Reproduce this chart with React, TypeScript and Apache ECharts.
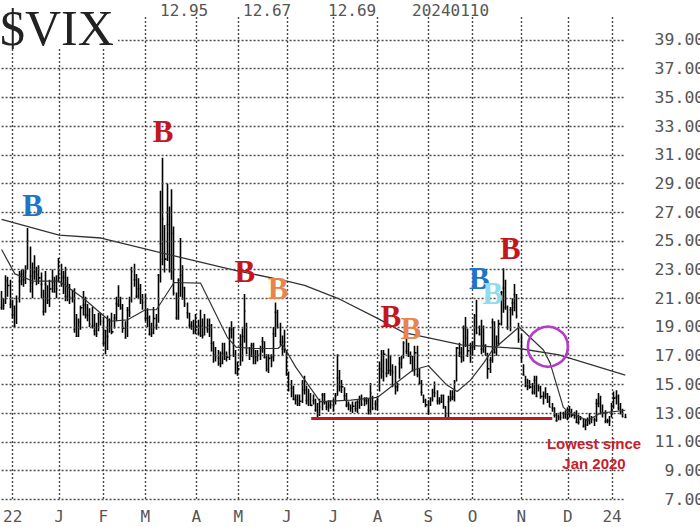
import React, { useEffect, useRef } from 'react';
import * as echarts from 'echarts';

// ---- trading calendar (month key, trading days in month, axis label at month start)
const monthKeys = ['2022-11', '2022-12', '2023-01', '2023-02', '2023-03', '2023-04', '2023-05', '2023-06', '2023-07', '2023-08', '2023-09', '2023-10', '2023-11', '2023-12', '2024-01'];
const monthDays = [5, 21, 20, 19, 23, 19, 22, 21, 20, 23, 20, 22, 21, 20, 7];
const monthLabels = ['', '22', 'J', 'F', 'M', 'A', 'M', 'J', 'J', 'A', 'S', 'O', 'N', 'D', '24'];

// ---- daily VIX closes
const closes = [
  20.35, 20.5, 22.21, 21.89, 20.58,
  19.84, 19.06, 20.75, 22.18, 22.68, 22.29, 22.83, 25.0, 22.55, 22.07, 22.83, 22.62, 22.42, 21.97, 20.07, 21.97, 20.87, 21.65, 22.14, 21.44, 21.67,
  22.9, 22.01, 22.46, 21.13, 21.97, 21.09, 21.03, 18.83, 18.35, 19.36, 20.34, 20.52, 19.85, 19.81, 19.2, 19.08, 18.73, 18.51, 19.94, 19.4,
  17.87, 18.73, 18.33, 19.43, 18.66, 19.63, 20.63, 20.53, 20.34, 18.91, 18.23, 20.17, 20.02, 22.87, 22.29, 21.14, 21.67, 20.95, 20.7,
  19.59, 19.63, 18.49, 18.61, 19.59, 19.11, 22.61, 24.8, 26.52, 23.73, 26.14, 22.99, 25.51, 21.38, 19.64, 22.26, 22.61, 21.74, 20.6, 19.97, 19.12, 19.02, 18.7,
  19.0, 18.58, 19.08, 18.4, 18.97, 18.86, 19.09, 17.87, 17.07, 16.95, 16.83, 16.46, 17.16, 16.77, 16.89, 18.76, 18.84, 17.03, 15.78,
  16.08, 17.78, 18.34, 20.09, 17.19, 17.01, 17.71, 16.94, 16.93, 17.03, 17.12, 17.99, 16.87, 16.05, 16.81, 16.91, 18.53, 20.03, 19.14, 17.95, 17.46, 17.94,
  15.65, 14.6, 14.73, 13.96, 13.94, 13.65, 13.83, 15.01, 14.61, 13.88, 14.5, 13.54, 13.88, 13.2, 12.91, 13.44, 14.25, 13.74, 13.43, 13.54, 13.59,
  13.57, 14.18, 15.44, 14.83, 14.84, 14.21, 13.54, 13.61, 13.34, 13.48, 13.3, 13.76, 13.99, 13.6, 13.91, 13.86, 13.19, 14.41, 13.33, 13.63,
  13.93, 16.09, 15.92, 17.1, 15.77, 15.99, 15.96, 15.85, 14.84, 14.82, 16.46, 16.78, 17.89, 17.3, 17.12, 16.97, 15.98, 17.2, 15.68, 15.08, 14.45, 13.88, 13.57,
  13.09, 14.02, 14.45, 14.4, 13.84, 13.8, 14.23, 13.48, 12.82, 13.79, 14.0, 14.11, 15.14, 17.54, 17.2, 16.9, 18.94, 18.22, 17.34, 17.52,
  17.61, 19.78, 18.58, 18.49, 17.45, 17.7, 17.03, 16.09, 16.69, 19.32, 17.21, 17.88, 19.22, 21.4, 21.71, 20.37, 18.97, 20.19, 20.68, 21.27, 19.75, 18.14,
  16.87, 15.66, 14.91, 14.89, 14.81, 14.45, 15.29, 14.17, 14.76, 14.16, 14.18, 14.32, 13.8, 13.41, 13.35, 12.85, 12.46, 12.69, 12.69, 12.98, 12.92,
  12.63, 13.08, 12.85, 12.97, 12.35, 12.35, 12.63, 12.07, 12.19, 12.48, 12.28, 12.56, 12.53, 13.67, 13.65, 13.03, 12.99, 12.43, 12.47, 12.45,
  13.2, 14.04, 14.13, 13.35, 13.08, 12.76, 12.69,
];

// ---- daily highs
const highs = [
  21.5, 21.0, 22.6, 22.5, 22.3,
  20.9, 20.5, 21.2, 22.9, 23.0, 23.0, 23.3, 25.9, 24.6, 23.5, 24.0, 23.2, 23.3, 22.8, 21.6, 22.9, 21.9, 22.3, 23.0, 22.5, 22.6,
  23.8, 23.4, 22.9, 23.2, 22.5, 22.0, 21.6, 21.7, 19.9, 19.6, 20.5, 21.5, 21.1, 20.6, 20.3, 20.4, 19.9, 19.3, 20.0, 20.0,
  19.7, 18.8, 19.8, 19.6, 20.0, 19.9, 21.1, 21.9, 21.1, 20.6, 19.4, 20.4, 21.1, 23.2, 23.4, 22.7, 22.4, 22.0, 21.3,
  21.3, 20.3, 19.8, 19.3, 20.4, 19.9, 22.7, 28.5, 30.8, 26.1, 29.0, 27.4, 28.6, 26.0, 21.4, 22.4, 25.2, 23.3, 21.8, 20.7, 20.0, 19.4, 19.5,
  19.9, 19.5, 20.2, 19.6, 19.9, 19.6, 19.6, 19.2, 18.0, 17.6, 17.4, 17.3, 17.9, 17.9, 17.3, 19.0, 19.4, 19.0, 17.4,
  16.6, 18.5, 18.9, 21.3, 19.3, 17.6, 17.9, 17.9, 17.4, 17.4, 17.7, 18.3, 18.0, 17.1, 17.1, 17.1, 19.0, 20.7, 20.2, 19.3, 18.4, 18.8,
  17.4, 15.9, 15.3, 14.9, 14.3, 14.3, 14.3, 15.3, 15.6, 14.9, 14.7, 14.4, 14.3, 14.0, 13.7, 14.0, 14.4, 14.4, 13.8, 13.9, 13.9,
  14.0, 14.4, 17.1, 16.0, 15.3, 14.8, 14.4, 13.8, 13.6, 13.8, 13.8, 13.9, 14.2, 14.3, 14.1, 14.1, 14.0, 15.1, 14.2, 13.9,
  14.2, 16.6, 17.4, 17.4, 16.8, 17.5, 17.0, 16.4, 16.3, 15.1, 16.9, 17.0, 18.0, 18.4, 17.9, 17.3, 17.0, 17.7, 17.7, 16.1, 15.3, 14.3, 14.0,
  13.9, 14.1, 14.7, 15.2, 14.6, 14.1, 14.3, 14.3, 13.5, 14.2, 14.6, 14.6, 15.3, 17.6, 17.9, 17.6, 19.1, 19.7, 18.9, 17.9,
  18.0, 19.9, 20.9, 19.1, 19.5, 19.1, 17.8, 17.2, 16.9, 19.6, 19.4, 18.4, 19.5, 21.5, 23.1, 22.3, 20.5, 20.4, 21.0, 22.0, 21.3, 19.3,
  18.5, 16.4, 15.6, 15.4, 15.3, 15.1, 15.6, 15.6, 15.0, 14.9, 14.5, 14.8, 14.4, 14.2, 13.7, 13.4, 13.0, 12.9, 13.1, 13.1, 13.2,
  13.4, 13.5, 13.3, 13.1, 13.2, 12.9, 12.8, 12.6, 12.6, 12.7, 13.0, 12.8, 12.7, 14.0, 14.4, 14.2, 13.6, 13.2, 12.6, 12.8,
  13.7, 14.5, 14.6, 14.3, 13.7, 13.3, 12.95,
];

// ---- daily lows
const lows = [
  20.2, 20.2, 20.6, 21.1, 20.3,
  19.6, 19.0, 19.2, 20.7, 21.9, 21.8, 22.0, 23.0, 21.4, 21.0, 22.3, 21.9, 22.0, 21.0, 19.8, 20.0, 20.6, 20.4, 21.4, 21.4, 21.0,
  22.1, 21.8, 21.3, 20.8, 20.8, 20.6, 20.7, 18.6, 18.3, 18.3, 18.8, 19.8, 19.6, 19.4, 19.0, 18.9, 18.4, 18.3, 18.7, 19.1,
  17.7, 17.1, 17.4, 18.6, 18.5, 18.9, 19.4, 20.4, 20.2, 18.6, 18.2, 18.3, 19.7, 20.7, 21.8, 21.0, 21.0, 20.6, 20.2,
  19.4, 19.0, 18.4, 18.3, 18.5, 18.8, 19.3, 22.1, 23.3, 22.8, 23.6, 22.8, 22.3, 21.2, 19.5, 19.5, 21.1, 20.9, 20.4, 19.6, 18.9, 18.8, 18.5,
  18.5, 18.4, 18.3, 18.2, 18.4, 18.6, 18.3, 17.3, 16.5, 16.6, 16.3, 16.2, 16.4, 16.7, 16.6, 16.7, 18.2, 16.9, 15.7,
  15.6, 16.3, 16.6, 17.9, 17.1, 16.7, 16.9, 16.4, 16.4, 16.6, 16.7, 17.2, 16.8, 15.9, 15.8, 16.2, 16.6, 18.3, 18.9, 17.7, 17.0, 17.2,
  15.6, 14.5, 14.1, 13.9, 13.6, 13.5, 13.5, 13.7, 14.3, 13.6, 13.5, 13.5, 13.6, 13.1, 12.7, 12.8, 13.2, 13.6, 13.2, 13.1, 13.3,
  13.1, 13.6, 14.2, 14.5, 14.4, 13.9, 13.4, 13.2, 13.1, 13.0, 13.1, 13.0, 13.3, 13.5, 13.5, 13.6, 12.9, 12.9, 13.2, 13.2,
  13.2, 14.5, 15.4, 15.2, 15.5, 15.7, 15.6, 14.8, 14.3, 14.5, 15.4, 16.1, 16.8, 17.1, 16.9, 16.4, 15.9, 15.6, 15.5, 15.0, 14.2, 13.7, 13.4,
  12.9, 13.5, 13.8, 14.1, 13.6, 13.6, 13.7, 13.3, 12.7, 12.7, 13.8, 13.9, 13.8, 15.2, 16.9, 16.5, 16.6, 17.6, 16.9, 16.5,
  17.0, 17.4, 18.5, 18.4, 17.1, 17.2, 17.0, 15.4, 15.8, 16.5, 17.2, 17.0, 17.7, 19.1, 20.0, 20.2, 18.8, 18.7, 19.8, 20.1, 19.6, 17.9,
  16.5, 15.6, 14.8, 14.6, 14.7, 14.3, 14.3, 14.1, 14.5, 14.0, 13.6, 14.0, 13.7, 13.4, 13.1, 12.7, 12.4, 12.5, 12.5, 12.6, 12.6,
  12.5, 12.7, 12.7, 12.6, 12.3, 12.2, 12.5, 12.0, 11.8, 12.1, 12.2, 12.3, 12.1, 12.4, 13.4, 12.9, 12.7, 12.3, 12.3, 12.1,
  12.7, 13.3, 13.6, 13.2, 12.9, 12.7, 12.67,
];

// ---- moving averages: [trading-day index, value]
const ma20Idx = [0, 6, 14, 26, 37, 49, 57, 65, 70, 78, 90, 102, 106, 114, 125, 127, 133, 144, 158, 170, 186, 193, 201, 206, 212, 218, 222, 234, 245, 248, 254, 257, 265, 271, 282];
const ma20Val = [24.4, 22.7, 22.2, 22.2, 21.0, 19.4, 19.5, 20.2, 20.2, 22.1, 22.05, 18.3, 17.6, 17.5, 17.5, 17.8, 16.2, 13.8, 13.9, 14.1, 16.0, 16.3, 15.0, 14.5, 15.3, 16.5, 17.4, 19.0, 17.4, 16.5, 13.4, 13.0, 12.5, 13.0, 13.2];
const ma200Idx = [0, 26, 45, 70, 107, 129, 137, 152, 170, 182, 208, 234, 252, 282];
const ma200Val = [26.5, 25.4, 25.2, 24.25, 22.9, 22.2, 21.9, 21.0, 19.6, 18.6, 17.75, 17.5, 17.05, 15.65];

// ---- right-hand price scale
const yTicks = [7, 9, 11, 13, 15, 17, 19, 21, 23, 25, 27, 29, 31, 33, 35, 37, 39];

// ---- "B" signals
const sigIdx = [14, 73, 110, 125, 176, 185, 216, 222, 230];
const sigVal = [27.45, 32.6, 22.85, 21.7, 19.7, 18.9, 22.4, 21.35, 24.5];
const sigColor = ['#1f74c4', '#c4161e', '#c4161e', '#e8844c', '#c4161e', '#e8844c', '#1f74c4', '#90dcec', '#c4161e'];

// ---- support line and circled crossover
const supportFrom = 140;
const supportTo = 249;
const supportLevel = 12.65;
const crossIdx = 247;
const crossVal = 17.63;

const headerTexts = ['12.95', '12.67', '12.69', '20240110'];
const headerX = [160, 243, 328, 412];

export default function App() {
  const ref = useRef<HTMLDivElement>(null);
  useEffect(() => {
    document.body.style.margin = '0';
    if (!ref.current) return;
    const chart = echarts.init(ref.current, undefined, { renderer: 'svg' });

    const categories: string[] = [];
    const labelAt: Record<number, string> = {};
    monthKeys.forEach((m, mi) => {
      for (let d = 0; d < monthDays[mi]; d++) {
        if (d === 0 && monthLabels[mi]) labelAt[categories.length] = monthLabels[mi];
        categories.push(`${m}-${d + 1}`);
      }
    });
    const isLabel = (i: number) => labelAt[i] !== undefined;
    const mono = 'DejaVu Sans Mono';
    const gridStyle = { color: '#4a4a4a', width: 1.4, type: [2, 2] as any };

    const option: any = {
      animation: false,
      backgroundColor: '#fff',
      grid: { left: 0.93, top: 17, width: 624.35, height: 482.2, containLabel: false },
      xAxis: {
        type: 'category',
        data: categories,
        boundaryGap: false,
        axisLine: { show: false },
        axisTick: { show: false },
        axisLabel: {
          interval: (i: number) => isLabel(i),
          formatter: (_v: string, i: number) => labelAt[i] ?? '',
          color: '#555',
          fontFamily: mono,
          fontSize: 16,
          margin: 9,
        },
        splitLine: { show: true, interval: (i: number) => isLabel(i), lineStyle: gridStyle },
      },
      yAxis: { type: 'value', min: 7, max: 40.6, show: false },
      series: [
        {
          type: 'line',
          data: [],
          z: 1,
          silent: true,
          markLine: {
            silent: true,
            symbol: ['none', 'none'],
            lineStyle: gridStyle,
            label: {
              show: true,
              position: 'end',
              distance: 79,
              align: 'right',
              formatter: (p: any) => Number(p.value).toFixed(2),
              color: '#555',
              fontFamily: mono,
              fontSize: 16.5,
            },
            data: yTicks.map((v) => ({ yAxis: v })),
          },
        },
        {
          type: 'candlestick',
          z: 3,
          barWidth: 2.2,
          data: closes.map((c, i) => [c, c, lows[i], highs[i]]),
          itemStyle: { color: '#000', color0: '#000', borderColor: '#000', borderColor0: '#000', borderWidth: 1.6 },
          markLine: {
            silent: true,
            symbol: ['none', 'none'],
            label: { show: false },
            lineStyle: { color: '#c0181c', width: 3, type: 'solid' },
            data: [[{ coord: [supportFrom, supportLevel] }, { coord: [supportTo, supportLevel] }]],
          },
          markPoint: {
            silent: true,
            data: [
              ...sigIdx.map((idx, k) => ({
                coord: [idx, sigVal[k]],
                symbol: 'circle',
                symbolSize: 1,
                itemStyle: { color: 'rgba(0,0,0,0)' },
                label: {
                  show: true,
                  position: 'inside',
                  formatter: 'B',
                  color: sigColor[k],
                  fontFamily: 'Liberation Serif',
                  fontWeight: 'bold',
                  fontSize: 31,
                },
              })),
              {
                coord: [crossIdx, crossVal],
                symbol: 'circle',
                symbolSize: 40,
                itemStyle: { color: 'rgba(0,0,0,0)', borderColor: '#b43cc8', borderWidth: 2.6 },
                label: { show: false },
              },
            ],
          },
        },
        {
          type: 'line',
          z: 4,
          symbol: 'none',
          data: ma20Idx.map((i, k) => [i, ma20Val[k]]),
          lineStyle: { color: '#333', width: 1.2 },
        },
        {
          type: 'line',
          z: 4,
          symbol: 'none',
          data: ma200Idx.map((i, k) => [i, ma200Val[k]]),
          lineStyle: { color: '#333', width: 1.3 },
        },
      ],
      graphic: [
        { type: 'rect', z: 100, shape: { x: 0, y: 0, width: 118, height: 48 }, style: { fill: '#fff' } },
        {
          type: 'text', z: 101, x: 0, y: 28,
          style: { text: '$VIX', fill: '#222', fontFamily: 'Liberation Serif', fontSize: 50, align: 'left', verticalAlign: 'middle', textAlign: 'left', textVerticalAlign: 'middle' },
        },
        ...headerTexts.map((t, k) => ({
          type: 'text', z: 101, x: headerX[k], y: 10,
          style: { text: t, fill: '#555', fontFamily: mono, fontSize: 16, align: 'left', verticalAlign: 'middle', textAlign: 'left', textVerticalAlign: 'middle' },
        })),
        {
          type: 'text', z: 101, x: 594, y: 443,
          style: { text: 'Lowest since', fill: '#c8202c', fontFamily: 'Liberation Sans', fontWeight: 'bold', fontSize: 15, align: 'center', verticalAlign: 'middle', textAlign: 'center', textVerticalAlign: 'middle' },
        },
        {
          type: 'text', z: 101, x: 594, y: 463,
          style: { text: 'Jan 2020', fill: '#c8202c', fontFamily: 'Liberation Sans', fontWeight: 'bold', fontSize: 15, align: 'center', verticalAlign: 'middle', textAlign: 'center', textVerticalAlign: 'middle' },
        },
      ],
    };
    chart.setOption(option);
    return () => chart.dispose();
  }, []);
  return <div ref={ref} style={{ width: 700, height: 527 }} />;
}
